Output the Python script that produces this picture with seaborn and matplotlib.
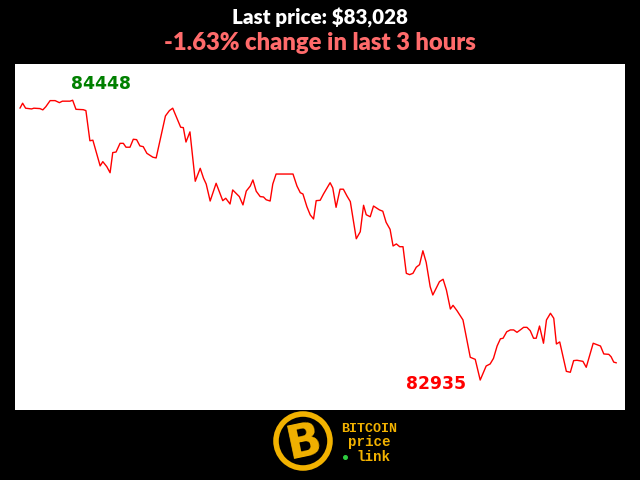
import matplotlib
matplotlib.use("Agg")
import matplotlib.pyplot as plt
import seaborn as sns
import pandas as pd
from matplotlib.patches import Circle

# ---- data ----
minutes = [0, 0.8, 1.7, 3.5, 4.2, 6.0, 6.9, 7.8, 9.1, 10.6, 11.9, 12.8, 15.1, 15.9, 16.9, 19.1, 19.9,
           21.1, 22.0, 24.2, 25.0, 26.2, 27.2, 28.0, 29.0, 30.2, 31.2, 32.0, 33.2, 34.2, 35.2, 36.2,
           37.2, 38.3, 40.1, 41.1, 43.9, 45.1, 46.1, 48.5, 49.3, 50.1, 51.3, 52.9, 54.4, 55.4, 56.2,
           57.4, 59.2, 61.2, 62.1, 63.4, 64.2, 66.2, 67.3, 68.3, 69.5, 70.3, 71.3, 72.5, 73.5, 74.3,
           75.5, 76.3, 77.3, 82.4, 83.6, 84.6, 85.4, 86.6, 87.6, 88.6, 89.4, 90.6, 91.6, 93.6, 94.4,
           95.4, 96.6, 97.6, 98.7, 99.7, 101.5, 102.7, 103.7, 104.5, 105.7, 106.7, 108.5, 109.5,
           110.5, 111.7, 112.6, 113.6, 114.6, 115.6, 116.6, 117.6, 118.6, 119.6, 120.6, 121.6,
           122.6, 123.8, 124.6, 125.6, 126.6, 127.7, 128.7, 129.9, 130.7, 131.9, 133.7, 135.9,
           137.4, 138.9, 140.7, 141.9, 142.9, 144.0, 145.0, 145.8, 146.9, 148.0, 149.0, 150.0,
           151.0, 152.0, 153.0, 154.0, 155.0, 155.8, 156.8, 158.0, 158.9, 160.1, 161.1, 161.9,
           162.9, 164.9, 166.1, 167.1, 168.1, 169.9, 170.9, 173.0, 174.2, 175.2, 176.2, 177.7,
           178.4, 179.2, 180.0]
prices = [84405, 84432, 84405, 84401, 84405, 84403, 84396, 84413, 84446, 84446, 84435, 84443, 84443,
          84448, 84399, 84397, 84392, 84229, 84232, 84093, 84116, 84089, 84056, 84165, 84168, 84215,
          84215, 84194, 84194, 84237, 84235, 84201, 84197, 84161, 84140, 84136, 84363, 84392, 84405,
          84302, 84300, 84222, 84277, 84010, 84080, 84026, 83995, 83903, 83999, 83905, 83918, 83887,
          83963, 83927, 83882, 83957, 83984, 84017, 83956, 83927, 83925, 83910, 83903, 83995, 84049,
          84049, 83984, 83948, 83941, 83872, 83828, 83806, 83905, 83907, 83941, 84002, 83974, 83869,
          83967, 83967, 83930, 83900, 83699, 83737, 83880, 83829, 83818, 83876, 83855, 83848, 83788,
          83750, 83660, 83671, 83656, 83656, 83512, 83505, 83512, 83545, 83559, 83634, 83571, 83440,
          83395, 83431, 83467, 83480, 83422, 83319, 83339, 83310, 83260, 83058, 83047, 82935, 83011,
          83022, 83052, 83119, 83158, 83161, 83196, 83206, 83206, 83193, 83206, 83220, 83220, 83202,
          83161, 83161, 83227, 83134, 83260, 83296, 83269, 83130, 83141, 82982, 82977, 83040, 83042,
          83036, 83004, 83134, 83126, 83119, 83076, 83074, 83061, 83032, 83028]

title_line1 = "Last price: $83,028"
title_line2 = "-1.63% change in last 3 hours"
logo_lines = ["BITCOIN", "price", "link"]

df = pd.DataFrame({"minute": minutes, "price": prices})

sns.set_style("white")
plt.rcParams["font.family"] = ["DejaVu Sans"]

fig = plt.figure(figsize=(6.4, 4.8), dpi=100, facecolor="black")
ax = fig.add_axes([15 / 640, 70 / 480, 610 / 640, 346 / 480])
ax.set_facecolor("white")

sns.lineplot(data=df, x="minute", y="price", color="#ff0000", linewidth=1.0, ax=ax)

ax.set_xlim(-1.5, 182.6)
ax.set_ylim(82773, 84644)
ax.set_xticks([])
ax.set_yticks([])
ax.set_xlabel("")
ax.set_ylabel("")
for s in ax.spines.values():
    s.set_visible(False)

# max / min annotations
imax = df["price"].idxmax()
imin = df["price"].idxmin()
ax.annotate(str(df.loc[imax, "price"]), xy=(df.loc[imax, "minute"], df.loc[imax, "price"]),
            xytext=(20.5, 12.0), textcoords="offset points", ha="center", va="center",
            color="#008000", fontsize=12.4, fontweight="bold")
ax.annotate(str(df.loc[imin, "price"]), xy=(df.loc[imin, "minute"], df.loc[imin, "price"]),
            xytext=(-31.5, -2.5), textcoords="offset points", ha="center", va="center",
            color="#ff0000", fontsize=12.4, fontweight="bold")

# titles
fig.text(0.5, 1 - 24.5 / 480, title_line1, ha="center", va="baseline", color="white",
         fontsize=14.8, fontweight="heavy", family="Lato")
fig.text(0.5, 1 - 50 / 480, title_line2, ha="center", va="baseline", color="#ff6b6b",
         fontsize=17.1, fontweight="heavy", family="Lato")

# logo
gold = "#f2b200"
logo_ax = fig.add_axes([0, 0, 1, 1], facecolor="none")
logo_ax.set_xlim(0, 640)
logo_ax.set_ylim(480, 0)
logo_ax.axis("off")
logo_ax.add_patch(Circle((303, 441), 27, fill=False, edgecolor=gold, linewidth=4))
logo_ax.text(304, 443, "B", ha="center", va="center", color=gold, fontsize=33,
             fontweight="heavy", family="DejaVu Sans", rotation=12)
mono = "Liberation Mono"
logo_ax.text(369, 432, logo_lines[0], ha="baseline" if False else "center", va="baseline",
             color=gold, fontsize=9.6, fontweight="bold", family=mono)
logo_ax.text(369, 446, logo_lines[1], ha="center", va="baseline", color=gold, fontsize=10.2,
             fontweight="bold", family=mono)
logo_ax.text(374, 461, logo_lines[2], ha="center", va="baseline", color=gold, fontsize=10.2,
             fontweight="bold", family=mono)
logo_ax.add_patch(Circle((345.5, 457.5), 1.8, color="#2ecc40"))

fig.savefig("out.png", dpi=100, facecolor="black")
